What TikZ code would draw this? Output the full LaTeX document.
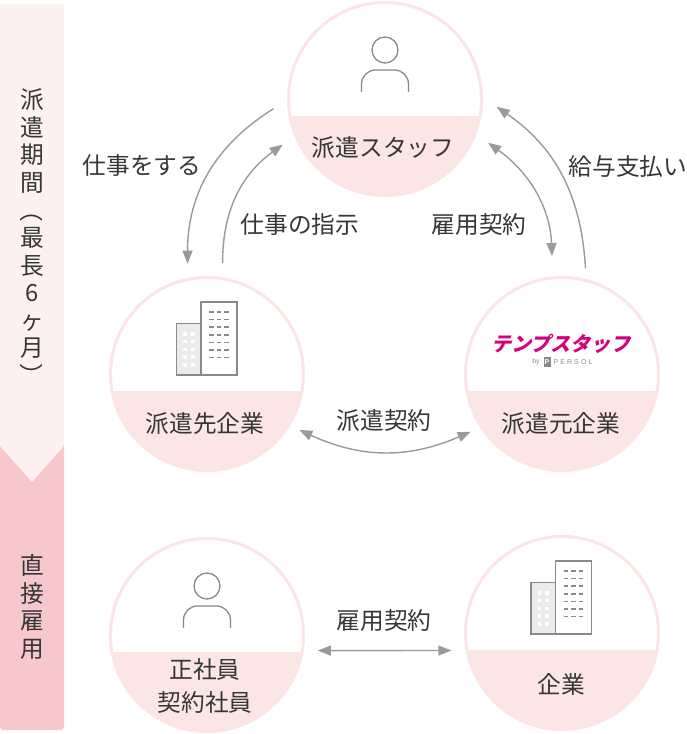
\documentclass[tikz,border=0pt]{standalone}
\usepackage{fontspec}
\setmainfont{Noto Sans CJK JP}
\newfontfamily\logofont[FakeSlant=0.25]{Noto Sans CJK JP}
\newfontfamily\latinfont{Liberation Sans}
\usetikzlibrary{arrows.meta}
\definecolor{ringpink}{HTML}{FBE5E5}
\definecolor{barpale}{HTML}{FDF1F2}
\definecolor{bardark}{HTML}{F6C8CB}
\definecolor{arrowgray}{HTML}{9A9A9A}
\definecolor{icongray}{HTML}{8A8A8A}
\definecolor{inkgray}{HTML}{363636}
\definecolor{logopink}{HTML}{D6007F}
\tikzset{
  party/.style={circle, draw=ringpink, line width=3pt, fill=white, minimum size=193pt, outer sep=15.5pt,
    path picture={\fill[ringpink] ([yshift=79.5pt]path picture bounding box.south west) rectangle (path picture bounding box.south east);}},
  lbl/.style={text=inkgray, font=\fontsize{23.7}{33}\selectfont, align=center, inner sep=0pt},
  bartext/.style={text=inkgray, font=\fontsize{23.7}{27.6}\selectfont, align=center, inner sep=0pt},
  rel/.style={draw=arrowgray, line width=1.4pt, arrows={-Triangle[length=13pt,width=10pt]}},
  relboth/.style={draw=arrowgray, line width=1.4pt, arrows={Triangle[length=13pt,width=10pt]-Triangle[length=13pt,width=10pt]}},
  person/.pic={
    \draw[icongray, line width=1.3pt] (0,0) circle (13);
    \draw[icongray, line width=1.3pt, rounded corners=14pt] (-23.5,42) -- (-23.5,20) -- (23.5,20) -- (23.5,42);
  },
  building/.pic={
    \draw[icongray, fill=black!8, line width=1.5pt] (-24.5,0) rectangle (0,-51.3);
    \draw[icongray, fill=white, line width=1.5pt] (0,0) rectangle (36,-73);
    % window rows
    \draw[white, line width=3.7pt, dash pattern=on 3.7pt off 4.05pt] (-16,-43) -- (-16,-8);
    \draw[white, line width=3.7pt, dash pattern=on 3.7pt off 4.05pt] (-8.2,-43) -- (-8.2,-8);
    \draw[icongray, line width=4.4pt, dash pattern=on 1.6pt off 6.07pt] (10.3,-64) -- (10.3,-16.6);
    \draw[icongray, line width=4.4pt, dash pattern=on 1.6pt off 6.07pt] (17.8,-64) -- (17.8,-16.6);
    \draw[icongray, line width=4.4pt, dash pattern=on 1.6pt off 6.07pt] (25.5,-64) -- (25.5,-16.6);
  }
}

\begin{document}
\begin{tikzpicture}[x=1pt, y=-1pt]
    \useasboundingbox (0,0) rectangle (686,734);
    % side bar
    \fill[bardark, rounded corners=3pt] (0,440) rectangle (64,730);
    \fill[barpale, rounded corners=3pt] (0,4) -- (64,4) -- (64,446) [sharp corners] -- (32,482) -- (0,446) [rounded corners=3pt] -- cycle;
    \node[bartext] (term) at (32,238) {派\\遣\\期\\間\\\rotatebox[origin=c]{-90}{（}\\最\\長\\6\\ヶ\\月\\\rotatebox[origin=c]{-90}{）}};
    \node[bartext] (direct) at (32,607) {直\\接\\雇\\用};
    % circles
    \node[party] (staff) at (385,99) {};
    \node[party] (client) at (207,374) {};
    \node[party] (agency) at (562,374) {};
    \node[party] (regular) at (207,635) {};
    \node[party] (company) at (562,633) {};
    % icons
    \pic at (385,50) {person};
    \pic at (207,586) {person};
    \pic at (201,375) {building};
    \pic at (555.5,634) {building};
    % logo
    \node[inner sep=0pt, text=logopink, font=\logofont\bfseries\fontsize{20}{20}\selectfont] (logo) at (561,344) {テンプスタッフ};
    \node[inner sep=0pt, text=icongray, font=\latinfont\fontsize{7}{7}\selectfont] (logoby) at (536,362) {by};
    \node[fill=icongray, text=white, inner sep=0pt, minimum width=7pt, minimum height=10pt, font=\latinfont\bfseries\fontsize{7}{7}\selectfont] (logomark) at (547,362) {P};
    \node[inner sep=0pt, text=icongray, font=\latinfont\fontsize{7}{7}\selectfont\addfontfeatures{LetterSpace=30}] (logoname) at (573,362) {PERSOL};
    % circle labels
    \node[lbl] (staffname) at (383,148) {派遣スタッフ};
    \node[lbl] (clientname) at (205,424) {派遣先企業};
    \node[lbl] (agencyname) at (561,424) {派遣元企業};
    \node[lbl] (regularname) at (205,686) {正社員\\契約社員};
    \node[lbl] (companyname) at (561,684) {企業};
    % relation labels
    \node[lbl] (work) at (142,166) {仕事をする};
    \node[lbl] (order) at (300,225) {仕事の指示};
    \node[lbl] (hire) at (479,225) {雇用契約};
    \node[lbl] (salary) at (628,167) {給与支払い};
    \node[lbl] (dispatch) at (384,421) {派遣契約};
    \node[lbl] (hiredirect) at (384,621) {雇用契約};
    % arrows round the triangle
    \draw[rel] (staff.185.6) to[bend right=29] (client.100.8);
    \draw[rel] (client.82.4) to[bend left=27] (staff.204.3);
    \draw[relboth, shorten >=6.5pt] (staff.-23.3) to[bend left=26] (agency.95.7);
    \draw[rel, shorten <=-4pt] (agency.78.8) to[bend right=26] (staff.-4);
    \draw[relboth, shorten <=-4pt, shorten >=-4pt] (client.-31) to[bend right=24] (agency.212);
    % direct hire
    \draw[relboth] (regular.-8) -- (company.189.04);
\end{tikzpicture}
\end{document}
